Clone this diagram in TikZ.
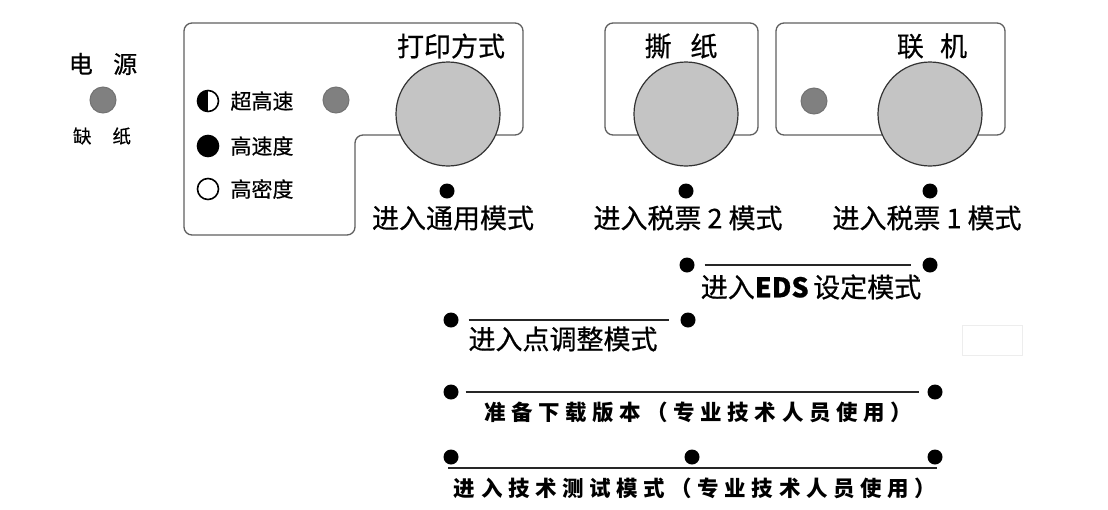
\documentclass[tikz,border=0pt]{standalone}
\usepackage{fontspec}
\setmainfont[FakeBold=0.6]{Noto Sans CJK SC}
\newfontfamily\kaifont[LetterSpace=26]{Noto Sans CJK SC}
\usetikzlibrary{positioning}
\usepackage{xcolor}
\definecolor{ledgray}{RGB}{128,128,128}
\definecolor{btngray}{RGB}{196,196,196}
\definecolor{rimgray}{RGB}{95,95,95}
\newcommand{\fsz}[1]{\fontsize{#1}{#1}\selectfont}
\tikzset{
  panel/.style  ={draw=rimgray, line width=1.3pt, rounded corners=8pt},
  btn/.style    ={draw=black!80, circle, minimum size=104pt, inner sep=0pt, fill=btngray, line width=1.2pt},
  led/.style    ={draw=black!55, circle, minimum size=26pt, inner sep=0pt, fill=ledgray, line width=1pt},
  legdot/.style ={draw=black, circle, minimum size=21pt, inner sep=0pt, fill=white, line width=1.6pt},
  pin/.style    ={circle, minimum size=15pt, inner sep=0pt, fill=black},
  bar/.style    ={line width=1.8pt, black!85, shorten <=10pt, shorten >=11pt},   % combo line between two keys
  lbl/.style    ={inner sep=0pt, font=\fsz{27}},
  leg/.style    ={inner sep=0pt, font=\fsz{21}},
  kai/.style    ={inner sep=0pt, font=\kaifont\bfseries\fsz{21.5}},
}
\begin{document}
\begin{tikzpicture}[x=1pt, y=-1pt]
  \useasboundingbox (0,0) rectangle (1108,509);
  % power / paper-out lamp
  \node[inner sep=0pt, font=\fsz{24}] (pwrtxt) at (103,64) {电\hspace{0.85em}源};
  \node[led] (pwr) at (103,100) {};
  \node[inner sep=0pt, font=\fsz{18.5}] (papertxt) at (102,136) {缺\hspace{21pt}纸};

  % key panels
  \draw[panel] (184,23) -- (523,23) -- (523,135) -- (355,135) -- (355,235) -- (184,235) -- cycle;
  \draw[panel] (605,23) rectangle (758,135);
  \draw[panel] (776,23) rectangle (1005,135);
  \draw[black!7, line width=0.8pt] (962,325) rectangle (1022,355);

  % print mode legend
  \node[legdot, path picture={\fill[black] (path picture bounding box.south west) rectangle (path picture bounding box.north);}] (ultra) at (208,101) {};
  \node[legdot, fill=black] (fast) at (208,146) {};
  \node[legdot] (dense) at (208,189) {};
  \node[leg, right=11pt of ultra] {超高速};
  \node[leg, right=11pt of fast]  {高速度};
  \node[leg, right=11pt of dense] {高密度};
  \node[led] (modeled) at (336,100) {};
  \node[led] (online) at (814,101) {};

  % keys
  \node[btn] (mode) at (448,114) {};
  \node[btn] (tear) at (686,114) {};
  \node[btn] (line) at (930,114) {};
  \node[lbl] at (451,46) {打印方式};
  \node[lbl] at (681,46) {撕\hspace{0.7em}纸};
  \node[lbl] at (932,46) {联\hspace{0.6em}机};

  % single keys
  \node[pin] (pmode) at (447,191) {};
  \node[pin] (ptear) at (686,191) {};
  \node[pin] (pline) at (930,191) {};
  \node[lbl] at (453,218) {进入通用模式};
  \node[lbl] at (688,218) {进入税票 2 模式};
  \node[lbl] at (927,218) {进入税票 1 模式};

  % key combinations
  \node[pin] (eds1) at (687,265) {};
  \node[pin] (eds2) at (930,265) {};
  \draw[bar] (eds1) -- (eds2);
  \node[lbl] at (811,287) {进入\textbf{EDS}\,设定模式};

  \node[pin] (adj1) at (451,320) {};
  \node[pin] (adj2) at (688,320) {};
  \draw[bar] (adj1) -- (adj2);
  \node[lbl] at (563,339) {进入点调整模式};

  \node[pin] (dl1) at (451,392) {};
  \node[pin] (dl2) at (935,392) {};
  \draw[bar, shorten <=7pt, shorten >=8pt] (dl1) -- (dl2);
  \node[kai] at (698,412) {准备下载版本（专业技术人员使用）};

  \node[pin] (tst1) at (451,457) {};
  \node[pin] (tst2) at (692,457) {};
  \node[pin] (tst3) at (935,457) {};
  \draw[line width=2.2pt, black!85] ([xshift=-3pt,yshift=-3pt]tst1.south) -- ([xshift=2pt,yshift=-3pt]tst3.south);
  \node[kai] at (695,488) {进入技术测试模式（专业技术人员使用）};
\end{tikzpicture}
\end{document}
